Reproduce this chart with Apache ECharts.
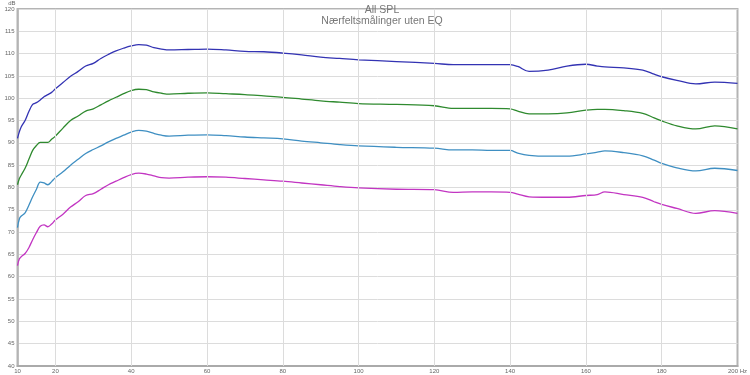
<!DOCTYPE html>
<html>
<head>
<meta charset="utf-8">
<script src="https://cdn.jsdelivr.net/npm/echarts@6/dist/echarts.min.js"></script>
<style>
html,body{margin:0;padding:0;background:#fff;}
#c{width:750px;height:375px;}
</style>
</head>
<body>
<div id="c"></div>
<script>
const titleMain = 'All SPL';
const titleSub = 'Nærfeltsmålinger uten EQ';
const freqs = [10,10.5,11,12,13,14,15,16,17,18,19,20,22,24,26,28,30,32,34,36,38,40,42,44,46,48,50,55,60,65,70,75,80,85,90,95,100,110,120,125,130,135,140,142,145,150,155,160,163,165,170,175,178,180,184,189,194,200];
const darkBlue = [91.0,92.5,93.6,95.0,97.0,98.6,99.0,99.6,100.3,100.8,101.3,102.1,103.5,104.9,106.0,107.2,107.8,108.9,109.8,110.6,111.2,111.7,112.0,111.9,111.3,111.0,110.8,110.9,111.0,110.8,110.5,110.4,110.1,109.7,109.2,108.9,108.6,108.2,107.8,107.5,107.5,107.5,107.5,107.1,106.0,106.3,107.2,107.6,107.2,107.0,106.8,106.3,105.4,104.8,104.0,103.2,103.6,103.3];
const green = [80.6,82.0,82.8,84.3,86.3,88.3,89.4,90.1,90.1,90.1,90.8,91.5,93.3,95.0,96.0,97.1,97.6,98.5,99.4,100.2,101.0,101.7,102.0,101.9,101.4,101.1,100.9,101.1,101.2,101.0,100.8,100.5,100.2,99.8,99.4,99.1,98.8,98.6,98.3,97.7,97.7,97.7,97.6,97.1,96.5,96.5,96.7,97.3,97.5,97.5,97.2,96.6,95.6,94.9,93.8,93.1,93.8,93.1];
const lightBlue = [71.0,73.0,73.6,74.3,76.0,77.9,79.6,81.2,81.0,80.6,81.3,82.2,83.5,85.0,86.3,87.6,88.5,89.3,90.2,91.0,91.7,92.4,92.8,92.6,92.1,91.7,91.5,91.7,91.8,91.6,91.3,91.1,90.9,90.4,90.0,89.6,89.3,89.0,88.8,88.4,88.4,88.3,88.3,87.7,87.2,87.0,87.0,87.5,87.9,88.2,87.8,87.1,86.1,85.4,84.4,83.7,84.3,83.8];
const magenta = [62.5,64.0,64.5,65.2,66.5,68.3,69.9,71.3,71.6,71.2,71.8,72.7,74.0,75.6,76.8,78.2,78.6,79.6,80.6,81.4,82.2,82.9,83.2,83.0,82.6,82.2,82.1,82.3,82.4,82.3,82.0,81.7,81.4,81.0,80.6,80.2,79.9,79.6,79.5,78.9,79.0,79.0,78.9,78.5,77.9,77.8,77.8,78.2,78.4,79.0,78.4,77.8,76.8,76.2,75.3,74.2,74.8,74.2];
const xTickLabels = [10,20,40,60,80,100,120,140,160,180,200];
const xGridLines = [20,40,60,80,100,120,140,160,180];

const seriesDefs = [
  {name:'1', values: darkBlue, color:'#3333b3'},
  {name:'2', values: green, color:'#2f8a2f'},
  {name:'3', values: lightBlue, color:'#3f8fc2'},
  {name:'4', values: magenta, color:'#c235c2'}
];

const chart = echarts.init(document.getElementById('c'), null, {renderer:'canvas'});
const series = seriesDefs.map(s => ({
  type:'line',
  name:s.name,
  data: freqs.map((f,i)=>[f, s.values[i]]),
  showSymbol:false,
  smooth:0.35,
  z:3,
  lineStyle:{color:s.color, width:1.3},
  itemStyle:{color:s.color}
}));
series.push({
  type:'line', data:[], z:1, silent:true,
  markLine:{
    silent:true, symbol:['none','none'],
    label:{show:false},
    lineStyle:{color:'#dcdcdc', width:1, type:'solid'},
    data: xGridLines.map(v=>({xAxis:v}))
  }
});

chart.setOption({
  animation:false,
  backgroundColor:'#ffffff',
  title:{
    text:titleMain, subtext:titleSub, left:377, top:0, textAlign:'center',
    itemGap:0,
    textStyle:{fontSize:10.5, fontWeight:'normal', color:'#777', fontFamily:'Liberation Sans', lineHeight:11},
    subtextStyle:{fontSize:10.5, color:'#777', fontFamily:'Liberation Sans', lineHeight:11}
  },
  grid:{left:17.5, right:8.5, top:6, bottom:9, show:true, borderColor:'#b4b4b4', borderWidth:2, backgroundColor:'transparent'},
  xAxis:{
    type:'value', min:10, max:200, interval:10,
    axisLine:{show:true, lineStyle:{color:'#aaaaaa', width:2}},
    axisTick:{show:false},
    splitLine:{show:false},
    axisLabel:{
      fontSize:6, color:'#666', margin:2, fontFamily:'Liberation Sans',
      formatter:(v)=> xTickLabels.includes(v) ? (v===200 ? '200 Hz' : String(v)) : ''
    }
  },
  yAxis:{
    type:'value', min:40, max:120, interval:5,
    name:'dB', nameLocation:'end', nameGap:1,
    nameTextStyle:{fontSize:6, color:'#666', align:'right', fontFamily:'Liberation Sans', padding:[0,2,0,0]},
    axisLine:{show:true, lineStyle:{color:'#b4b4b4', width:1.5}},
    axisTick:{show:false},
    splitLine:{show:true, lineStyle:{color:'#dcdcdc', width:1}},
    axisLabel:{fontSize:6, color:'#666', margin:3, fontFamily:'Liberation Sans'}
  },
  series: series
});
</script>
</body>
</html>
